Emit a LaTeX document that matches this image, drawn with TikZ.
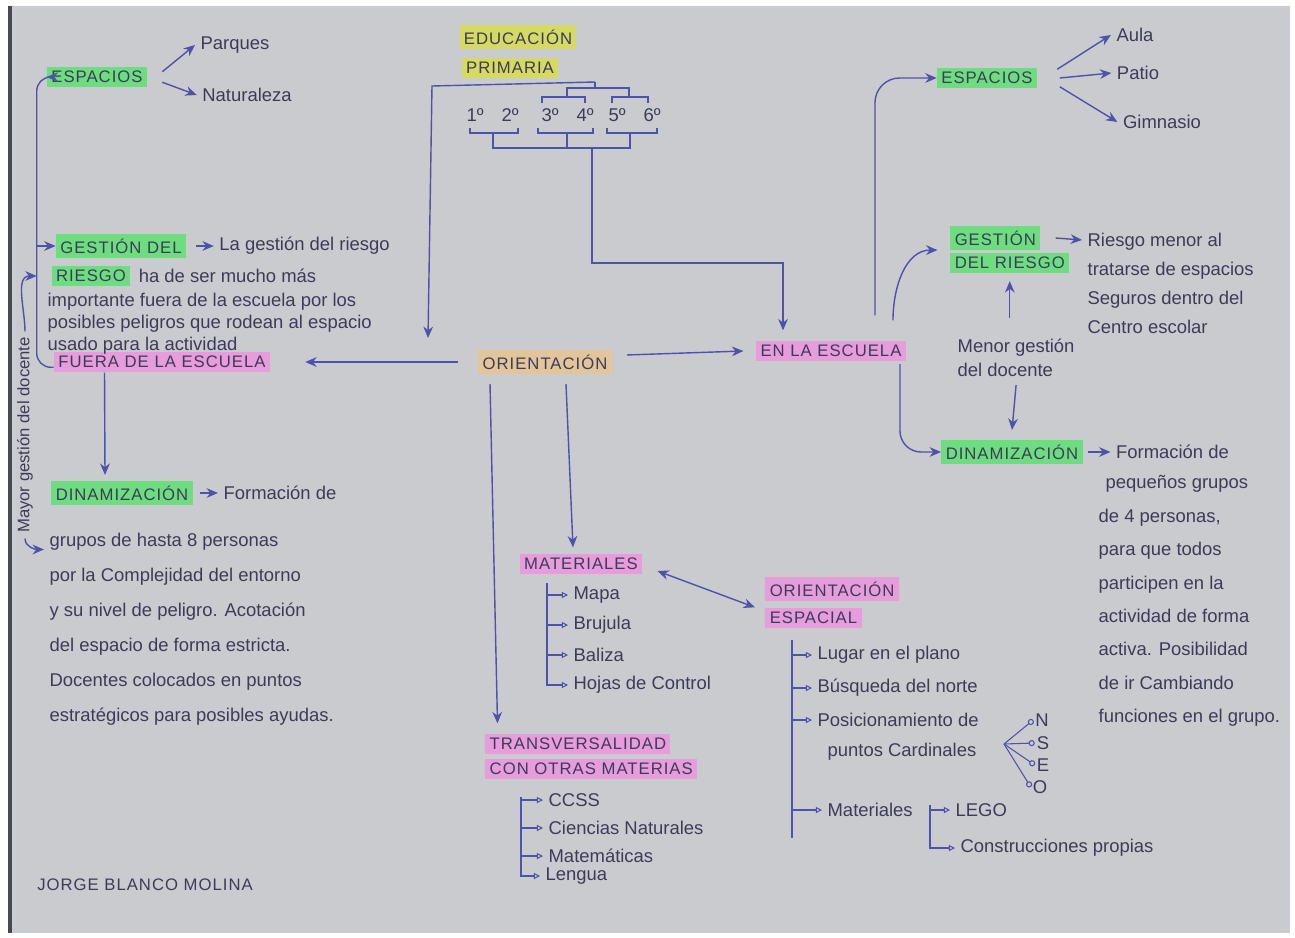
\documentclass[tikz,border=0pt]{standalone}
\usepackage{fontspec}
\setmainfont{Liberation Sans}
\usepackage{tikz}
\usetikzlibrary{positioning}
\usetikzlibrary{arrows.meta}

\definecolor{paper}{RGB}{202,203,207}
\definecolor{edge}{RGB}{70,72,78}
\definecolor{ink}{RGB}{78,82,168}
\definecolor{pencil}{RGB}{60,60,90}
\definecolor{hlgreen}{RGB}{110,221,128}
\definecolor{hlpink}{RGB}{231,156,219}
\definecolor{hlyellow}{RGB}{214,217,98}
\definecolor{hlbeige}{RGB}{226,197,154}

\begin{document}
\begin{tikzpicture}[x=0.02cm, y=-0.02cm,
    box/.style={inner sep=2.5pt, text=pencil, font=\fontsize{9.5}{10}\selectfont\addfontfeature{LetterSpace=6}},
    greenbox/.style={box, fill=hlgreen},
    pinkbox/.style={box, fill=hlpink},
    yellowbox/.style={box, fill=hlyellow},
    beigebox/.style={box, fill=hlbeige},
    note/.style={inner sep=3pt, text=pencil, align=left, font=\fontsize{10.5}{13}\selectfont},
    link/.style={ink, line width=0.8pt, -{Stealth[length=6.5pt, width=5.5pt]}},
    plain/.style={ink, line width=0.7pt},
    sub/.style={ink, line width=0.6pt, -{Triangle[open, length=3.5pt, width=3.5pt]}},
    dot/.style={ink, line width=0.6pt, -{Circle[open, length=3.5pt]}}]

    \useasboundingbox (0,0) rectangle (1295,937);
    \fill[white] (0,0) rectangle (1295,937);
    \fill[paper] (10,6) rectangle (1290,933);
    \draw[edge, line width=2pt] (10,6) -- (10,933);

    \node(E1)[yellowbox] at (518,37){EDUCACIÓN};
    \node(P1)[yellowbox] at (510,68){PRIMARIA};

    \foreach \n/\x in {1/475,2/510,3/550,4/585,5/617,6/652}
        \node(Y\n)[note] at (\x,115){\n º};

    \draw[plain] (542,103) -- (542,97) -- (585,97) -- (585,103);
    \draw[plain] (612,103) -- (612,97) -- (648,97) -- (648,103);
    \draw[plain] (567,97) -- (567,88) -- (629,88) -- (629,97);
    \draw[plain] (595,88) -- (595,82);
    \draw[plain] (470,128) -- (470,133) -- (518,133) -- (518,128);
    \draw[plain] (538,128) -- (538,133) -- (593,133) -- (593,128);
    \draw[plain] (607,128) -- (607,133) -- (657,133) -- (657,128);
    \draw[plain] (493,133) -- (493,148) -- (630,148) -- (630,133);
    \draw[plain] (567,133) -- (567,148);

    \coordinate(T0) at (595,82);
    \coordinate(T1) at (428,338);
    \coordinate(B0) at (592,148);

    \node(O)[beigebox] at (545,362){ORIENTACIÓN};
    \node(FE)[pinkbox] at (162,362){FUERA DE LA ESCUELA};
    \node(EN)[pinkbox] at (831,351){EN LA ESCUELA};

    \draw[link] (T0) -- (432,86) -- (T1);
    \draw[link] (B0) -- (592,263) -| ([xshift=-0.96cm, yshift=0.2cm]EN.north);
    \draw[link] ([xshift=-0.4cm]O.west) -- ([xshift=0.7cm]FE.east);
    \draw[link] ([xshift=0.3cm, yshift=4pt]O.east) -- ([xshift=-0.25cm]EN.west);

    \node(EL)[greenbox] at (97,77){ESPACIOS};
    \node(PQ)[note] at (235,45){Parques};
    \node(NT)[note] at (247,95){Naturaleza};
    \draw[link] ([xshift=0.3cm, yshift=3pt]EL.east) -- (PQ.west);
    \draw[link] ([xshift=0.3cm, yshift=-3pt]EL.east) -- (NT.west);

    \node(GL)[greenbox] at (121,246){GESTIÓN DEL};
    \node(RL)[greenbox] at (91,276){RIESGO};
    \node(GT)[note, right=0.55cm of GL]{La gestión del riesgo};
    \node(RT)[note, right=0.05cm of RL]{ha de ser mucho más};
    \node(FT)[note, font=\fontsize{10.5}{12.5}\selectfont, anchor=north west] at (42,288){importante fuera de la escuela por los\\posibles peligros que rodean al espacio\\usado para la actividad};
    \draw[link] ([xshift=0.2cm]GL.east) -- (GT.west);

    \coordinate(V0) at ([xshift=-0.2cm]EL.west);
    \draw[link, rounded corners=8pt] ([yshift=-3pt]FE.west) -| (V0) -- (EL.west);
    \draw[link] (V0 |- GL.west) -- (GL.west);

    \node(DL)[greenbox] at (122,493){DINAMIZACIÓN};
    \node(DT)[note, right=0.5cm of DL]{Formación de};
    \node(DP)[note, font=\fontsize{10.5}{20}\selectfont, anchor=north west] at (44,527){grupos de hasta 8 personas\\por la Complejidad del entorno\\y su nivel de peligro. Acotación\\del espacio de forma estricta.\\Docentes colocados en puntos\\estratégicos para posibles ayudas.};
    \draw[link] ([xshift=-1.15cm]FE.south) -- ([xshift=-0.34cm, yshift=0.12cm]DL.north);
    \draw[link] ([xshift=0.15cm]DL.east) -- (DT.west);

    \node(MG)[note, rotate=90, font=\fontsize{9.5}{11}\selectfont] at (25,435){Mayor gestión del docente};
    \draw[link] (MG.east) to[out=90, in=180] (V0 |- RL.west);
    \draw[link] (MG.west) to[out=-90, in=180] ([yshift=-0.45cm]DP.north west);

    \node(ER)[greenbox] at (987,78){ESPACIOS};
    \node(AU)[note] at (1135,35){Aula};
    \node(PA)[note] at (1138,73){Patio};
    \node(GI)[note] at (1162,122){Gimnasio};
    \draw[link, rounded corners=14pt] ([xshift=0.88cm, yshift=0.5cm]EN.north) |- (ER.west);
    \draw[link] ([xshift=0.4cm, yshift=5pt]ER.east) -- (AU.west);
    \draw[link] ([xshift=0.45cm]ER.east) -- (PA.west);
    \draw[link] ([xshift=0.45cm, yshift=-5pt]ER.east) -- (GI.west);

    \node(GR1)[greenbox, anchor=west] at (950,238){GESTIÓN};
    \node(GR2)[greenbox, anchor=west] at (950,263){DEL RIESGO};
    \node(RR)[note, font=\fontsize{10.5}{16.5}\selectfont, anchor=north west] at (1082,228){Riesgo menor al\\tratarse de espacios\\Seguros dentro del\\Centro escolar};
    \draw[link] ([xshift=1.24cm, yshift=0.4cm]EN.north) to[out=90, in=180] ([xshift=-0.25cm]GR1.south west);
    \draw[link] ([xshift=0.3cm]GR1.east) -- ([yshift=-0.24cm]RR.north west);

    \node(MN)[note, font=\fontsize{10.5}{14}\selectfont, anchor=north west] at (952,333){Menor gestión\\del docente};
    \node(DR)[greenbox] at (1012,452){DINAMIZACIÓN};
    \coordinate(MU) at ([yshift=0.3cm]GR2.south |- MN.north);
    \draw[link] (MU) -- ([yshift=-0.15cm]GR2.south);
    \draw[link] ([yshift=-0.05cm]MN.south) -- ([yshift=0.2cm]DR.north);
    \draw[link, rounded corners=12pt] ([xshift=1.38cm, yshift=-0.05cm]EN.south) |- (DR.west);

    \node(DRT)[note, right=0.55cm of DR]{Formación de};
    \draw[link] ([xshift=0.1cm]DR.east) -- (DRT.west);
    \node(DRP)[note, font=\fontsize{10.5}{19}\selectfont, anchor=north west] at (1093,470){\hspace{4pt}pequeños grupos\\de 4 personas,\\para que todos\\participen en la\\actividad de forma\\activa. Posibilidad\\de ir Cambiando\\funciones en el grupo.};

    \node(MA)[pinkbox] at (581,564){MATERIALES};
    \node(OE1)[pinkbox, anchor=west] at (765,589){ORIENTACIÓN};
    \node(OE2)[pinkbox, anchor=west] at (765,618){ESPACIAL};
    \node(TR1)[pinkbox, anchor=west] at (485,744){TRANSVERSALIDAD};
    \node(TR2)[pinkbox, anchor=west] at (485,769){CON OTRAS MATERIAS};
    \draw[link] ([xshift=0.42cm, yshift=-0.2cm]O.south) -- ([xshift=-0.16cm, yshift=0.12cm]MA.north);
    \draw[link] ([xshift=-1.1cm, yshift=-0.2cm]O.south) -- ([xshift=0.25cm, yshift=0.2cm]TR1.north west);
    \draw[link, {Stealth[length=6.5pt, width=5.5pt]}-{Stealth[length=6.5pt, width=5.5pt]}] ([xshift=0.3cm, yshift=-4pt]MA.east) -- ([xshift=-0.2cm]OE2.north west);

    \node(M1)[note, anchor=west] at (568,595){Mapa};
    \node(M2)[note, anchor=west] at (568,625){Brujula};
    \node(M3)[note, anchor=west] at (568,655){Baliza};
    \node(M4)[note, anchor=west] at (568,685){Hojas de Control};
    \coordinate(ML) at (547,583);
    \foreach \m in {M1,M2,M3}
        \draw[sub] (ML |- \m.west) -- (\m.west);
    \draw[sub] (ML) |- (M4.west);

    \node(C1)[note, anchor=west] at (543,800){CCSS};
    \node(C2)[note, anchor=west] at (543,828){Ciencias Naturales};
    \node(C3)[note, anchor=west] at (543,856){Matemáticas};
    \node(C4)[note, anchor=west] at (540,876){Lengua};
    \coordinate(CL) at (521,797);
    \foreach \m in {C1,C2,C3}
        \draw[sub] (CL |- \m.west) -- (\m.west);
    \draw[sub] (CL) |- (C4.west);

    \node(L1)[note, anchor=west] at (812,655){Lugar en el plano};
    \node(L2)[note, anchor=west] at (812,688){Búsqueda del norte};
    \node(L3)[note, anchor=west] at (812,720){Posicionamiento de};
    \node(L3b)[note, anchor=west] at (822,752){puntos Cardinales};
    \node(L4)[note, anchor=west] at (822,810){Materiales};
    \coordinate(OL) at (792,640);
    \coordinate(OL2) at (792,838);
    \draw[plain] (OL) -- (OL2);
    \foreach \m in {L1,L2,L3,L4}
        \draw[sub] (OL |- \m.west) -- (\m.west);

    \node(LG)[note, anchor=west] at (950,810){LEGO};
    \node(CP)[note, anchor=west] at (955,848){Construcciones propias};
    \coordinate(MT) at (930,805);
    \draw[sub] (MT |- LG.west) -- (LG.west);
    \draw[sub] (MT) |- (CP.west);

    \node(CN)[note, inner sep=1pt] at (1042,720){N};
    \node(CS)[note, inner sep=1pt] at (1043,743){S};
    \node(CE)[note, inner sep=1pt] at (1043,765){E};
    \node(CO)[note, inner sep=1pt] at (1040,787){O};
    \coordinate(FAN) at (1004,744);
    \foreach \c in {CN,CS,CE,CO}
        \draw[dot] (FAN) -- (\c.west);

    \node(JB)[box] at (145,885){JORGE BLANCO MOLINA};

\end{tikzpicture}
\end{document}
